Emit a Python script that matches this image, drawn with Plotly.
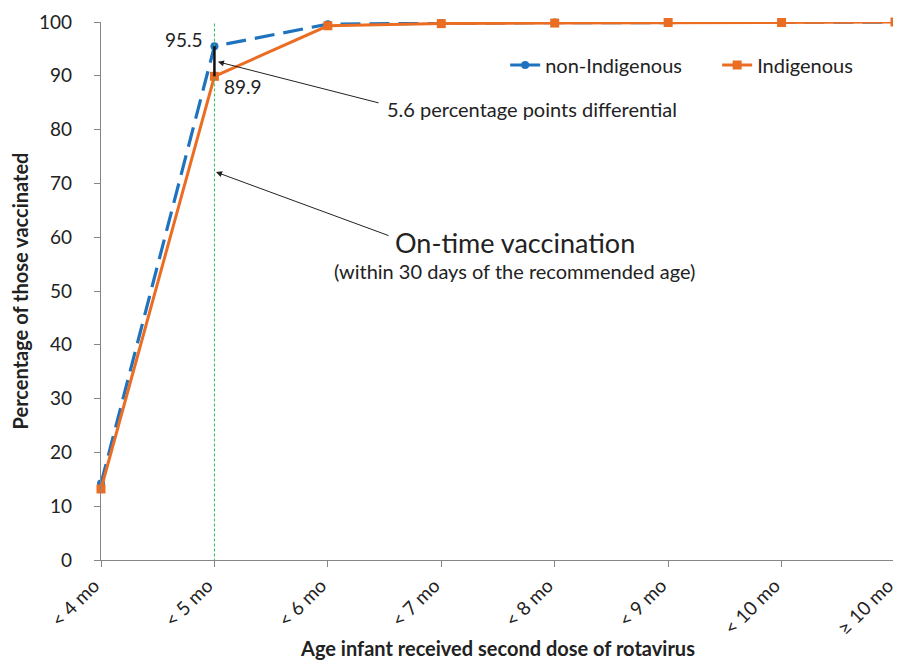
import plotly.graph_objects as go

categories = ["< 4 mo", "< 5 mo", "< 6 mo", "< 7 mo", "< 8 mo", "< 9 mo", "< 10 mo", "\u2265 10 mo"]
non_indigenous = [14.2, 95.5, 99.6, 99.8, 99.9, 99.9, 99.9, 100.0]
indigenous = [13.2, 89.9, 99.3, 99.7, 99.8, 99.9, 99.9, 100.0]
y_ticks = list(range(0, 101, 10))

xi = list(range(len(categories)))
FONT = "Lato, 'Open Sans', sans-serif"
BLUE = "#1F73BE"
ORANGE = "#EB6D23"
TXT = "#222222"

fig = go.Figure()
fig.add_trace(go.Scatter(
    x=xi, y=non_indigenous, name="non-Indigenous", mode="lines+markers",
    line=dict(color=BLUE, width=3.2, dash="20px,9px"),
    marker=dict(symbol="circle", size=8, color=BLUE),
    cliponaxis=False, showlegend=False,
))
fig.add_trace(go.Scatter(
    x=xi, y=indigenous, name="Indigenous", mode="lines+markers",
    line=dict(color=ORANGE, width=3),
    marker=dict(symbol="square", size=9, color=ORANGE),
    cliponaxis=False, showlegend=False,
))
# legend entries (solid key lines as in the reference)
fig.add_trace(go.Scatter(
    x=[None], y=[None], name="non-Indigenous", mode="lines+markers",
    line=dict(color=BLUE, width=3), marker=dict(symbol="circle", size=8, color=BLUE),
    legend="legend", showlegend=True,
))
fig.add_trace(go.Scatter(
    x=[None], y=[None], name="Indigenous", mode="lines+markers",
    line=dict(color=ORANGE, width=3), marker=dict(symbol="square", size=9, color=ORANGE),
    legend="legend2", showlegend=True,
))

# on-time reference line at < 5 mo
fig.add_shape(type="line", x0=1, x1=1, y0=-4, y1=100, xref="x", yref="y",
              line=dict(color="#2DBE4B", width=1, dash="3px,2px"))
# differential bar
fig.add_shape(type="line", x0=1, x1=1, y0=indigenous[1], y1=non_indigenous[1], xref="x", yref="y",
              line=dict(color="#111111", width=2.5))

fig.add_annotation(x=1, y=non_indigenous[1], text=f"{non_indigenous[1]}", showarrow=False,
                   xanchor="right", yanchor="middle", xshift=-9, yshift=7,
                   font=dict(size=19, color=TXT, family=FONT))
fig.add_annotation(x=1, y=indigenous[1], text=f"{indigenous[1]}", showarrow=False,
                   xanchor="left", yanchor="middle", xshift=8, yshift=-10,
                   font=dict(size=19, color=TXT, family=FONT))

# 5.6 differential arrow + text
fig.add_annotation(x=1.031, y=92.6, ax=2.46, ay=84.9, xref="x", yref="y", axref="x", ayref="y",
                   text="", showarrow=True, arrowhead=2, arrowsize=1.2, arrowwidth=1, arrowcolor=TXT)
fig.add_annotation(x=2.504, y=83.8, xref="x", yref="y", text="5.6 percentage points differential",
                   showarrow=False, xanchor="left", yanchor="middle",
                   font=dict(size=20, color=TXT, family=FONT))

# on-time arrow + text
fig.add_annotation(x=1.014, y=72.1, ax=2.548, ay=60.2, xref="x", yref="y", axref="x", ayref="y",
                   text="", showarrow=True, arrowhead=2, arrowsize=1.2, arrowwidth=1, arrowcolor=TXT)
fig.add_annotation(x=3.65, y=59.1, xref="x", yref="y", text="On-time vaccination",
                   showarrow=False, xanchor="center", yanchor="middle",
                   font=dict(size=27, color=TXT, family=FONT))
fig.add_annotation(x=3.645, y=53.7, xref="x", yref="y", text="(within 30 days of the recommended age)",
                   showarrow=False, xanchor="center", yanchor="middle",
                   font=dict(size=20, color=TXT, family=FONT))

legend_common = dict(orientation="h", y=0.92, xanchor="left", yanchor="middle",
                     font=dict(size=20, family=FONT, color=TXT),
                     bgcolor="rgba(0,0,0,0)", itemwidth=30)

# page body has an 8px default margin, so the figure is sized to fit the window
fig.update_layout(
    width=893, height=656,
    margin=dict(l=93, r=6, t=14, b=104),
    paper_bgcolor="white", plot_bgcolor="white",
    font=dict(family=FONT, size=19, color=TXT),
    showlegend=True,
    legend=dict(x=0.509, **legend_common),
    legend2=dict(x=0.776, **legend_common),
    xaxis=dict(
        range=[0, 7], tickmode="array", tickvals=xi, ticktext=categories,
        tickangle=-45, ticks="outside", ticklen=6, tickcolor="#868686",
        showline=True, linecolor="#868686", linewidth=1.3, showgrid=False, zeroline=False,
        automargin=False, ticklabeloverflow="allow", ticklabelshift=-7,
        tickfont=dict(size=19, family=FONT, color=TXT),
        title=dict(text="<b>Age infant received second dose of rotavirus</b>",
                   font=dict(size=20, family=FONT, color=TXT), standoff=4),
    ),
    yaxis=dict(
        range=[0, 100], tickmode="array", tickvals=y_ticks,
        ticks="outside", ticklen=6, tickcolor="#868686",
        showline=True, linecolor="#868686", linewidth=1.3, showgrid=False, zeroline=False,
        automargin=False, ticklabelstandoff=18, ticklabeloverflow="allow",
        tickfont=dict(size=19, family=FONT, color=TXT),
        title=dict(text="<b>Percentage of those vaccinated</b>",
                   font=dict(size=20, family=FONT, color=TXT), standoff=4),
    ),
)

fig.write_html("out.html")
